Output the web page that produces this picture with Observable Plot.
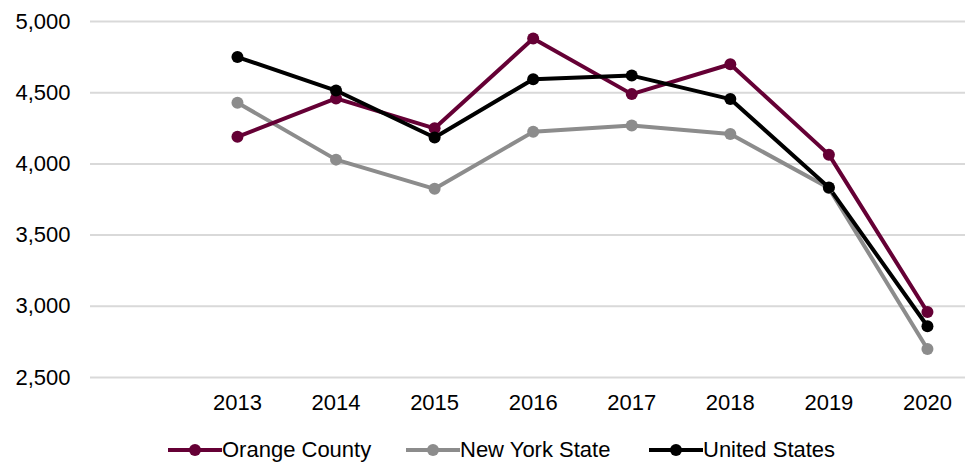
<!DOCTYPE html>
<html>
<head>
<meta charset="utf-8">
<script src="https://cdn.jsdelivr.net/npm/d3@7"></script>
<script src="https://cdn.jsdelivr.net/npm/@observablehq/plot@0.6"></script>
<style>
  body { margin: 0; background: #fff; font-family: "Liberation Sans", Arial, sans-serif; }
  #legend { position: relative; height: 26px; margin-top: 1px; font-size: 22px; line-height: 24px; color: #000; white-space: nowrap; }
  .item { position: absolute; top: 0; display: flex; align-items: center; }
  .item svg { display: block; }
</style>
</head>
<body>
<div id="chart"></div>
<div id="legend"></div>
<script>
const years = [2013, 2014, 2015, 2016, 2017, 2018, 2019, 2020];
const seriesNames = ["Orange County", "New York State", "United States"];
const orangeCounty = [4190, 4460, 4250, 4880, 4490, 4700, 4065, 2960];
const newYorkState = [4430, 4030, 3825, 4225, 4270, 4210, 3830, 2700];
const unitedStates = [4750, 4515, 4185, 4595, 4620, 4455, 3835, 2860];
const yTicks = [2500, 3000, 3500, 4000, 4500, 5000];
const colors = ["#650035", "#8c8c8c", "#000000"];

const allValues = [orangeCounty, newYorkState, unitedStates];
const data = seriesNames.flatMap((name, i) =>
  years.map((year, j) => ({ series: name, year, value: allValues[i][j] }))
);
const order = ["New York State", "Orange County", "United States"];
const fmt = d3.format(",");

const chart = Plot.plot({
  width: 965,
  height: 436,
  marginLeft: 90,
  marginRight: 0,
  marginTop: 21,
  marginBottom: 59,
  style: { fontSize: "22px", fontFamily: "'Liberation Sans', Arial, sans-serif", color: "#000", background: "#fff" },
  x: { domain: [2011.509, 2020.386], ticks: years, tickFormat: d => String(d), tickSize: 0, tickPadding: 17, label: null },
  y: { domain: [2500, 5000], ticks: yTicks, tickFormat: d => fmt(d), tickSize: 0, tickPadding: 20, label: null },
  color: { domain: seriesNames, range: colors },
  marks: [
    Plot.ruleY(yTicks, { stroke: "#d9d9d9", strokeWidth: 2 }),
    ...order.map(name => Plot.line(data.filter(d => d.series === name), {
      x: "year", y: "value", stroke: "series", strokeWidth: 4, strokeLinejoin: "round"
    })),
    ...order.map(name => Plot.dot(data.filter(d => d.series === name), {
      x: "year", y: "value", fill: "series", r: 6
    }))
  ]
});
document.getElementById("chart").appendChild(chart);

const legendPos = [168, 406, 649];
const legend = document.getElementById("legend");
seriesNames.forEach((name, i) => {
  const item = document.createElement("div");
  item.className = "item";
  item.style.left = legendPos[i] + "px";
  const w = 54;
  item.innerHTML = `<svg width="${w}" height="26"><line x1="0" x2="${w}" y1="13" y2="13" stroke="${colors[i]}" stroke-width="4"/><circle cx="${w/2}" cy="13" r="6" fill="${colors[i]}"/></svg><span>${name}</span>`;
  legend.appendChild(item);
});
</script>
</body>
</html>
